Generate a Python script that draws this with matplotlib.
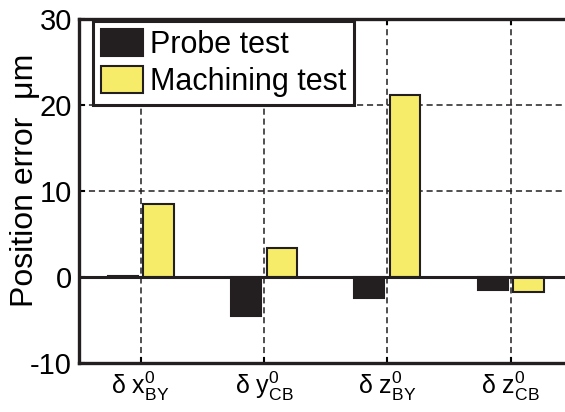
import numpy as np
import matplotlib.pyplot as plt

plt.rcParams['font.family'] = ['Liberation Sans', 'DejaVu Sans']
plt.rcParams['mathtext.fontset'] = 'custom'
plt.rcParams['mathtext.rm'] = 'Liberation Sans'
plt.rcParams['mathtext.it'] = 'Liberation Sans'
plt.rcParams['axes.unicode_minus'] = False

categories = [r'$\mathregular{\delta\ x^0_{BY}}$', r'$\mathregular{\delta\ y^0_{CB}}$',
              r'$\mathregular{\delta\ z^0_{BY}}$', r'$\mathregular{\delta\ z^0_{CB}}$']
probe = [0.1, -4.5, -2.5, -1.5]
machining = [8.5, 3.4, 21.1, -1.8]

x = np.arange(1, len(categories) + 1)
w = 0.245

fig = plt.figure(figsize=(5.65, 4.12), dpi=100)
ax = fig.add_axes([0.1398, 0.119, 0.873, 0.835])

ax.bar(x - 0.145, probe, w, color='#231f20', edgecolor='#231f20', linewidth=1.5,
       label='Probe test', zorder=3)
ax.bar(x + 0.145, machining, w, color='#f7ec6a', edgecolor='#231f20', linewidth=1.5,
       label='Machining test', zorder=3)
ax.axhline(0, color='#231f20', linewidth=2.2, zorder=4)

ax.set_xlim(0.5, 4.5)
ax.set_ylim(-10, 30)
ax.set_xticks(x)
ax.set_xticklabels(categories, fontsize=18)
ax.set_yticks([-10, 0, 10, 20, 30])
ax.tick_params(axis='y', labelsize=21, direction='in', length=4, width=1.5, pad=5)
ax.tick_params(axis='x', direction='in', length=4, width=1.5, top=True, pad=5)
ax.grid(True, linestyle=(0, (4, 2.5)), color='#231f20', linewidth=1.1, zorder=1)
ax.set_axisbelow(True)
for s in ax.spines.values():
    s.set_linewidth(2.4)
    s.set_color('#231f20')

ax.set_ylabel('Position error  \u03bcm', fontsize=23)
ax.yaxis.set_label_coords(-0.079, 0.53)

leg = ax.legend(loc='upper left', fontsize=22, frameon=True, fancybox=False,
                handlelength=1.4, handleheight=1.0, borderpad=0.25,
                labelspacing=0.2, handletextpad=0.2, borderaxespad=0.0,
                bbox_to_anchor=(0.0284, 0.994))
leg.get_frame().set_edgecolor('#231f20')
leg.get_frame().set_linewidth(2.2)
leg.get_frame().set_alpha(1)
leg.set_zorder(5)

fig.savefig('out.png', dpi=100)
